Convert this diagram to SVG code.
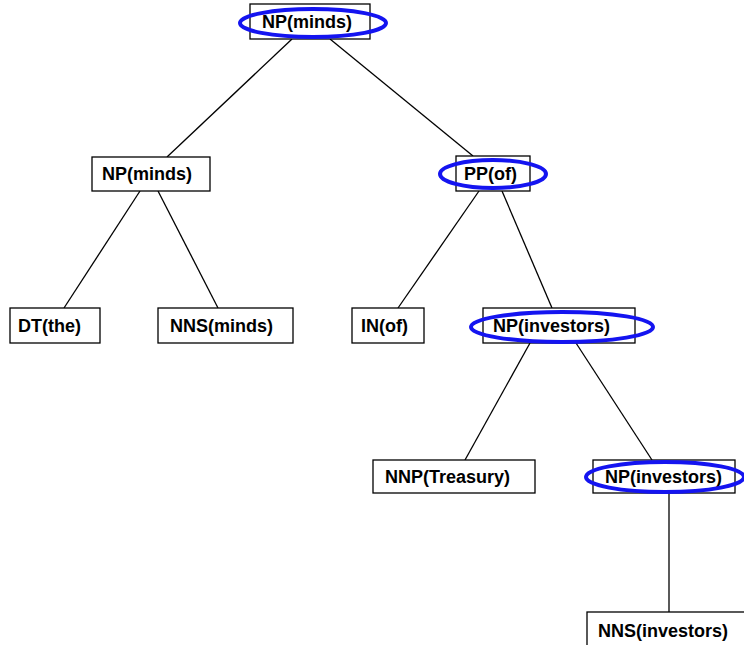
<svg xmlns="http://www.w3.org/2000/svg" width="744" height="645" viewBox="0 0 744 645">
  <style>
    .box rect { fill: #ffffff; stroke: #000000; stroke-width: 1.3; }
    .box text { font-family: "Liberation Sans", Arial, sans-serif; font-weight: bold; font-size: 18px; fill: #000000; }
    .edge { stroke: #000000; stroke-width: 1.3; fill: none; }
    .head { fill: none; stroke: #1414f0; stroke-width: 4; }
  </style>
  <rect width="744" height="645" fill="#ffffff"/>

  <!-- tree edges -->
  <g id="connectors">
    <line class="edge" x1="292" y1="39" x2="167" y2="157"/>
    <line class="edge" x1="330" y1="39" x2="473" y2="156"/>
    <line class="edge" x1="140" y1="191" x2="64" y2="308"/>
    <line class="edge" x1="158" y1="191" x2="218" y2="308"/>
    <line class="edge" x1="479" y1="191" x2="398" y2="308"/>
    <line class="edge" x1="502" y1="191" x2="552" y2="308"/>
    <line class="edge" x1="530" y1="343" x2="465" y2="460"/>
    <line class="edge" x1="576" y1="343" x2="652" y2="460"/>
    <line class="edge" x1="669" y1="493" x2="669" y2="612"/>
  </g>

  <g id="np-minds-root" class="box">
    <rect x="250" y="4" width="120" height="35"/>
    <text x="262" y="28">NP(minds)</text>
    <ellipse class="head" cx="313" cy="23" rx="73" ry="14"/>
  </g>

  <g id="np-minds" class="box">
    <rect x="92" y="157" width="118" height="34"/>
    <text x="102" y="180">NP(minds)</text>
  </g>

  <g id="pp-of" class="box">
    <rect x="456" y="156" width="74" height="35"/>
    <text x="464" y="180">PP(of)</text>
    <ellipse class="head" cx="493" cy="174" rx="53" ry="14"/>
  </g>

  <g id="dt-the" class="box">
    <rect x="10" y="308" width="90" height="35"/>
    <text x="18" y="332">DT(the)</text>
  </g>

  <g id="nns-minds" class="box">
    <rect x="158" y="308" width="135" height="35"/>
    <text x="170" y="332">NNS(minds)</text>
  </g>

  <g id="in-of" class="box">
    <rect x="352" y="308" width="72" height="35"/>
    <text x="361" y="332">IN(of)</text>
  </g>

  <g id="np-investors" class="box">
    <rect x="483" y="308" width="152" height="35"/>
    <text x="493" y="332">NP(investors)</text>
    <ellipse class="head" cx="562" cy="327" rx="91" ry="15"/>
  </g>

  <g id="nnp-treasury" class="box">
    <rect x="373" y="460" width="162" height="33"/>
    <text x="385" y="483">NNP(Treasury)</text>
  </g>

  <g id="np-investors-inner" class="box">
    <rect x="593" y="460" width="142" height="33"/>
    <text x="605" y="483">NP(investors)</text>
    <ellipse class="head" cx="665" cy="477" rx="79" ry="15"/>
  </g>

  <g id="nns-investors" class="box">
    <rect x="587" y="612" width="160" height="36"/>
    <text x="598" y="637">NNS(investors)</text>
  </g>
</svg>
